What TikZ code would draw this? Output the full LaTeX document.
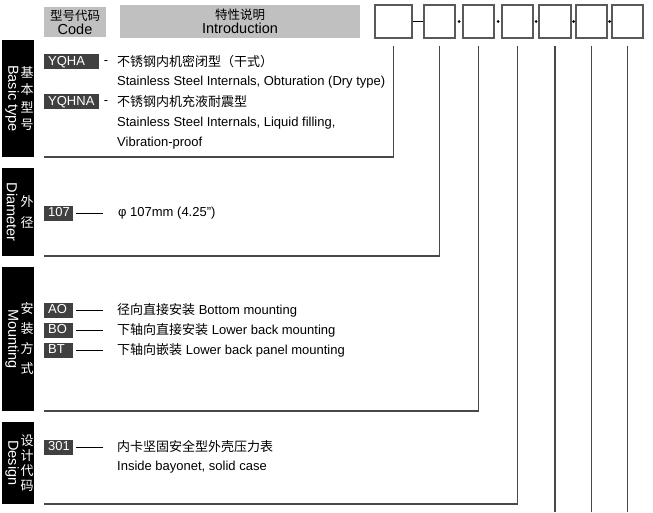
\documentclass[tikz,border=0pt]{standalone}
\usepackage{fontspec}
\setmainfont{Liberation Sans}
\newfontfamily\cjk{Noto Sans CJK SC}
\usetikzlibrary{positioning,calc}
\definecolor{headgray}{RGB}{192,192,192}
\definecolor{taggray}{RGB}{64,64,64}
\definecolor{framegray}{RGB}{72,72,72}
\tikzset{
  digitbox/.style={draw=black!65, line width=1.2pt, fill=white, minimum height=33pt, inner sep=0pt},
  headbox/.style={fill=headgray, inner sep=0pt, align=center, font=\fontsize{14.5}{14}\selectfont},
  sidebox/.style={fill=black, minimum width=32pt, inner sep=0pt},
  sidetext/.style={text=white, inner sep=0pt, rotate=-90, font=\fontsize{14.5}{16}\selectfont},
  sidecjk/.style={text=white, inner sep=0pt, align=center},
  tagbox/.style={fill=taggray, text=white, inner xsep=4pt, inner ysep=2pt, text height=9.4pt, text depth=1.6pt,
    align=left, anchor=west, font=\fontsize{13}{15}\selectfont},
  desc/.style={anchor=west, inner sep=0pt, font=\fontsize{13}{15}\selectfont},
  frameline/.style={draw=framegray, line width=1.2pt},
  tagline/.style={draw=black, line width=0.8pt}
}
\begin{document}
\begin{tikzpicture}[x=1pt,y=-1pt]
  \useasboundingbox (0,0) rectangle (653,512);
  \coordinate (bot) at (0,512);
  % --- Header ---
  \node[headbox, minimum width=62pt, minimum height=30pt] (hcode) at (75,22)
    {{\cjk\fontsize{12.5}{14}\selectfont 型号代码}\\[0pt]Code};
  \node[headbox, minimum width=240pt, minimum height=33pt] (hintro) at (240,21.5)
    {{\cjk\fontsize{12.5}{14}\selectfont 特性说明}\\[0pt]Introduction};
  % --- Code boxes ---
  \foreach \i/\cx/\w in {1/393.5/37,2/439.5/31,3/478.5/31,4/517.5/31,5/555/32,6/591.5/31,7/627.5/31}
    \node[digitbox, minimum width=\w pt] (d\i) at (\cx,21.5) {};
  \draw[line width=1.5pt] (d1.east) -- (d2.west);
  \foreach \a/\b in {2/3,3/4,4/5,5/6,6/7}
    \fill ($(d\a.east)!0.5!(d\b.west)$) circle (1.5pt);
  % --- Frames ---
  \coordinate (f1) at (44,157);
  \coordinate (f2) at (44,256);
  \coordinate (f3) at (44,411);
  \coordinate (f4) at (44,504);
  \draw[frameline] ([yshift=-7pt]d1.south) |- (f1);
  \draw[frameline] ([yshift=-7pt]d2.south) |- (f2);
  \draw[frameline] ([yshift=-7pt]d3.south) |- (f3);
  \draw[frameline] ([yshift=-7pt]d4.south) |- (f4);
  \foreach \i in {5,6,7}
    \draw[frameline] ([yshift=-7pt]d\i.south) -- (d\i.south |- bot);
  % --- Side labels ---
  \node[sidebox, minimum height=117pt] (s1) at (18,98.5) {};
  \node[sidetext] (s1en) at ([xshift=-6pt]s1.center) {Basic type};
  \node[sidecjk, font=\cjk\fontsize{13}{17.5}\selectfont] (s1cn) at ([xshift=9pt]s1.center) {基\\本\\型\\号};
  \node[sidebox, minimum height=88pt] (s2) at (18,212) {};
  \node[sidetext] (s2en) at ([xshift=-6pt]s2.center) {Diameter};
  \node[sidecjk, font=\cjk\fontsize{13}{21}\selectfont] (s2cn) at ([xshift=9pt]s2.center) {外\\径};
  \node[sidebox, minimum height=144pt] (s3) at (18,339) {};
  \node[sidetext] (s3en) at ([xshift=-6pt]s3.center) {Mounting};
  \node[sidecjk, font=\cjk\fontsize{13}{20}\selectfont] (s3cn) at ([xshift=9pt]s3.center) {安\\装\\方\\式};
  \node[sidebox, minimum height=82pt] (s4) at (18,463) {};
  \node[sidetext] (s4en) at ([xshift=-6pt]s4.center) {Design};
  \node[sidecjk, font=\cjk\fontsize{13}{15}\selectfont] (s4cn) at ([xshift=9pt]s4.center) {设\\计\\代\\码};
  % --- Basic type ---
  \node[tagbox, text width=47pt] (yqha) at (44,61.5) {YQHA};
  \node[inner sep=0pt, font=\fontsize{13}{15}\selectfont] (dash1) at (106,63) {-};
  \node[desc] (yqhacn) at (117,62) {\cjk 不锈钢内机密闭型（干式）};
  \node[desc] (yqhaen) at (117,82) {Stainless Steel Internals, Obturation (Dry type)};
  \node[tagbox, text width=47pt] (yqhna) at (44,101.5) {YQHNA};
  \node[inner sep=0pt, font=\fontsize{13}{15}\selectfont] (dash2) at (106,103) {-};
  \node[desc] (yqhnacn) at (117,102) {\cjk 不锈钢内机充液耐震型};
  \node[desc] (yqhnaen) at (117,123) {Stainless Steel Internals, Liquid filling,};
  \node[desc] (yqhnaen2) at (117,143) {Vibration-proof};
  % --- Diameter ---
  \node[tagbox, text width=21pt] (t107) at (44,213) {107};
  \node[desc] (x107) at (118,213) {φ 107mm (4.25”)};
  \draw[tagline] ([xshift=3pt]t107.east) -- ([xshift=-15pt]x107.west);
  % --- Mounting ---
  \foreach \tg/\y/\txt in {AO/310/{{\cjk 径向直接安装} Bottom mounting},
                           BO/330/{{\cjk 下轴向直接安装} Lower back mounting},
                           BT/350/{{\cjk 下轴向嵌装} Lower back panel mounting}} {
    \node[tagbox, text width=21pt] (t\tg) at (44,\y) {\tg};
    \node[desc] (x\tg) at (117,\y) {\txt};
    \draw[tagline] ([xshift=3pt]t\tg.east) -- ([xshift=-14pt]x\tg.west);
  }
  % --- Design ---
  \node[tagbox, text width=21pt] (t301) at (44,447) {301};
  \node[desc] (x301) at (117,447) {\cjk 内卡坚固安全型外壳压力表};
  \node[desc] (x301en) at (117,467) {Inside bayonet, solid case};
  \draw[tagline] ([xshift=3pt]t301.east) -- ([xshift=-14pt]x301.west);
\end{tikzpicture}
\end{document}
